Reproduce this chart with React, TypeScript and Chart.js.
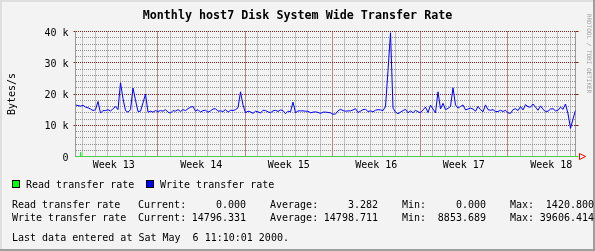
import React, { useEffect, useRef } from 'react';
import { Chart, registerables } from 'chart.js';

Chart.register(...registerables);

// ---------- data ----------
const TITLE = 'Monthly host7 Disk System Wide Transfer Rate';
const Y_TITLE = 'Bytes/s';
const FOOTER = 'Last data entered at Sat May  6 11:10:01 2000.';
const WATERMARK = 'RRDTOOL / TOBI OETIKER';

const SPAN_DAYS = 40;
const SAMPLE_STEP_DAYS = 0.2;
const FIRST_DAY_LINE = 0.56;
const FIRST_WEEK_LINE_INDEX = 6;
const WEEK_LABELS = ['Week 13', 'Week 14', 'Week 15', 'Week 16', 'Week 17', 'Week 18'];

const Y_MAX = 40000;
const Y_STEP = 2000;
const Y_MAJOR = 10000;

const SERIES_NAMES = ['Read transfer rate', 'Write transfer rate'];
const SERIES_COLORS = ['#00ff00', '#0000ff'];
const STAT_CURRENT = ['0.000', '14796.331'];
const STAT_AVERAGE = ['3.282', '14798.711'];
const STAT_MIN = ['0.000', '8853.689'];
const STAT_MAX = ['1420.800', '39606.414'];

// read transfer rate (bytes/s): flat zero with one small burst
const readDays = [0, 0.36, 0.4, 0.44, 40];
const readRate = [0, 0, 1420.8, 0, 0];

// write transfer rate (bytes/s), one sample every SAMPLE_STEP_DAYS
const writeRate = [
  16500, 16300, 16100, 16400, 15800, 15600, 15200, 14700, 15000, 17600,
  13900, 14700, 14700, 15000, 14500, 15300, 16000, 15000, 23600, 18500,
  14700, 14200, 15000, 21900, 18000, 14400, 14500, 17200, 20000, 14200,
  14500, 14200, 14700, 14400, 14700, 14500, 15000, 14200, 13900, 14700,
  14500, 15000, 14400, 15000, 14700, 15300, 15800, 16000, 14500, 15000,
  14200, 14700, 14800, 14200, 14600, 15200, 15300, 14500, 14600, 14400,
  15000, 14200, 14800, 14700, 15000, 15600, 20700, 16500, 14000, 14500,
  14300, 13800, 14500, 14300, 13900, 14800, 14700, 14300, 14000, 14600,
  14800, 14400, 14900, 14700, 13700, 14500, 14300, 17400, 14000, 14600,
  14600, 14600, 14500, 14500, 14000, 14200, 14300, 14100, 13800, 14200,
  14200, 14100, 14000, 13500, 13600, 14600, 15100, 14700, 14500, 14600,
  14600, 14900, 15300, 14100, 14500, 15000, 15100, 14400, 14600, 14300,
  14800, 15000, 14900, 14700, 16000, 27500, 39600, 15500, 14200, 13700,
  14200, 14700, 15100, 14000, 14600, 14000, 14800, 14300, 14000, 14900,
  15800, 14100, 16400, 15200, 14000, 20700, 15200, 17000, 15000, 15400,
  16000, 22000, 16500, 15500, 16000, 16500, 14900, 15200, 15500, 15200,
  14500, 16000, 15000, 14300, 16500, 15000, 14800, 15000, 14400, 14400,
  14800, 14400, 14800, 14000, 13800, 15000, 15300, 14700, 16000, 14900,
  16600, 15900, 15800, 16800, 15800, 14800, 16200, 15100, 14400, 14500,
  15200, 15300, 14600, 14800, 15800, 15100, 16800, 13700, 9000, 12000,
  14800,
];

// ---------- style ----------
const W = 595;
const H = 251;
const PLOT_LEFT = 75.5;
const PLOT_TOP = 31.5;
const PLOT_RIGHT_PAD = 19.5;
const X_AXIS_H = 20;
const PLOT_BOTTOM_PAD = H - 156.5 - X_AXIS_H;

const BACK = '#f3f3f3';
const SHADE_A = '#dedede';
const SHADE_B = '#9e9e9e';
const GRID = '#8f8f8f';
const MGRID = '#821e1e';
const AXIS = '#9a9a9a';
const ARROW = '#ff0000';
const MONO = '"DejaVu Sans Mono", monospace';
const CHAR_W = 6;

const rrdPlugin = {
  id: 'rrdDecor',
  beforeDraw(chart: any) {
    const { ctx } = chart;
    ctx.save();
    ctx.fillStyle = BACK;
    ctx.fillRect(0, 0, W, H);
    ctx.fillStyle = SHADE_A;
    ctx.fillRect(0, 0, W, 2);
    ctx.fillRect(0, 0, 2, H);
    ctx.fillStyle = SHADE_B;
    ctx.fillRect(0, H - 2, W, 2);
    ctx.fillRect(W - 2, 0, 2, H);
    ctx.restore();
  },
  afterDraw(chart: any) {
    const { ctx, chartArea, scales } = chart;
    const y = scales.y;
    ctx.save();

    // major grid extensions to the right of the plot
    ctx.strokeStyle = MGRID;
    ctx.lineWidth = 1;
    for (let v = Y_MAJOR; v <= Y_MAX; v += Y_MAJOR) {
      const py = Math.round(y.getPixelForValue(v) - 0.5) + 0.5;
      ctx.beginPath();
      ctx.moveTo(chartArea.right, py);
      ctx.lineTo(chartArea.right + 3, py);
      ctx.stroke();
    }

    // x axis arrow
    const by = Math.round(y.getPixelForValue(0) - 0.5) + 0.5;
    ctx.strokeStyle = SERIES_COLORS[0];
    ctx.beginPath();
    ctx.moveTo(chartArea.right, by);
    ctx.lineTo(chartArea.right + 3, by);
    ctx.stroke();
    ctx.strokeStyle = ARROW;
    const ax = Math.round(chartArea.right + 3) + 0.5;
    ctx.beginPath();
    ctx.moveTo(ax, by - 3);
    ctx.lineTo(ax + 6, by);
    ctx.lineTo(ax, by + 3);
    ctx.closePath();
    ctx.stroke();

    // title
    ctx.fillStyle = '#000';
    ctx.font = `bold 11.7px ${MONO}`;
    ctx.textAlign = 'center';
    ctx.textBaseline = 'alphabetic';
    ctx.fillText(TITLE, W / 2, 19);

    // legend
    ctx.font = `10px ${MONO}`;
    ctx.textAlign = 'left';
    const legendX = [12, 146];
    SERIES_NAMES.forEach((name, i) => {
      const lx = legendX[i];
      ctx.fillStyle = '#000';
      ctx.fillRect(lx, 180, 8, 8);
      ctx.fillStyle = SERIES_COLORS[i];
      ctx.fillRect(lx + 1, 181, 6, 6);
      ctx.fillStyle = '#000';
      ctx.fillText(name, lx + 14, 187.5);
    });

    // statistics
    const col = (c: number) => 12 + c * CHAR_W;
    const rows = [208, 220.5];
    SERIES_NAMES.forEach((name, i) => {
      const by2 = rows[i];
      ctx.textAlign = 'left';
      ctx.fillText(name, col(0), by2);
      ctx.fillText('Current:', col(21), by2);
      ctx.fillText('Average:', col(43), by2);
      ctx.fillText('Min:', col(65), by2);
      ctx.fillText('Max:', col(83), by2);
      ctx.textAlign = 'right';
      ctx.fillText(STAT_CURRENT[i], col(39), by2);
      ctx.fillText(STAT_AVERAGE[i], col(61), by2);
      ctx.fillText(STAT_MIN[i], col(79), by2);
      ctx.fillText(STAT_MAX[i], col(97), by2);
    });
    ctx.textAlign = 'left';
    ctx.fillText(FOOTER, col(0), 241);

    // watermark
    ctx.fillStyle = '#a0a0a0';
    ctx.font = `6px ${MONO}`;
    ctx.translate(589, 53.5);
    ctx.rotate(Math.PI / 2);
    ctx.textAlign = 'center';
    ctx.textBaseline = 'middle';
    ctx.fillText(WATERMARK, 0, 0);
    ctx.restore();
  },
};

export default function App() {
  const ref = useRef<HTMLCanvasElement | null>(null);

  useEffect(() => {
    if (!ref.current) return;
    const tickFont = { family: MONO, size: 10 };
    const chart = new Chart(ref.current, {
      type: 'line',
      data: {
        datasets: [
          {
            label: SERIES_NAMES[0],
            data: readRate.map((v, i) => ({ x: readDays[i], y: v })),
            borderColor: SERIES_COLORS[0],
            borderWidth: 1,
            pointRadius: 0,
            tension: 0,
            fill: false,
          },
          {
            label: SERIES_NAMES[1],
            data: writeRate.map((v, i) => ({ x: i * SAMPLE_STEP_DAYS, y: v })),
            borderColor: SERIES_COLORS[1],
            borderWidth: 1,
            pointRadius: 0,
            tension: 0,
            fill: false,
          },
        ],
      },
      options: {
        animation: false,
        responsive: false,
        maintainAspectRatio: false,
        devicePixelRatio: 1,
        events: [],
        layout: {
          padding: { left: 0, top: PLOT_TOP, right: PLOT_RIGHT_PAD, bottom: PLOT_BOTTOM_PAD },
        },
        plugins: {
          legend: { display: false },
          title: { display: false },
          tooltip: { enabled: false },
        },
        scales: {
          x: {
            type: 'linear',
            min: 0,
            max: SPAN_DAYS,
            afterBuildTicks: (axis: any) => {
              const t: any[] = [];
              for (let k = 0; FIRST_DAY_LINE + k < SPAN_DAYS; k++) {
                const isWeek = k >= FIRST_WEEK_LINE_INDEX && (k - FIRST_WEEK_LINE_INDEX) % 7 === 0;
                t.push({ value: FIRST_DAY_LINE + k, kind: isWeek ? 'week' : 'day' });
              }
              const firstWeek = FIRST_DAY_LINE + FIRST_WEEK_LINE_INDEX;
              WEEK_LABELS.forEach((_, k) => {
                t.push({ value: firstWeek - 3.5 + 7 * k, kind: 'label', idx: k });
              });
              t.push({ value: SPAN_DAYS, kind: 'edge' });
              t.sort((a, b) => a.value - b.value);
              axis.ticks = t;
            },
            afterFit: (s: any) => {
              s.height = X_AXIS_H;
            },
            ticks: {
              autoSkip: false,
              maxRotation: 0,
              minRotation: 0,
              padding: 3,
              color: '#000',
              font: tickFont,
              callback: (_v: any, i: number, ticks: any[]) =>
                ticks[i] && ticks[i].kind === 'label' ? WEEK_LABELS[ticks[i].idx] : '',
            },
            grid: {
              drawTicks: false,
              lineWidth: 1,
              color: (c: any) => {
                const k = c.tick && c.tick.kind;
                if (k === 'label') return 'rgba(0,0,0,0)';
                if (k === 'week') return MGRID;
                if (k === 'edge') return AXIS;
                return GRID;
              },
            },
            border: {
              display: true,
              color: AXIS,
              width: 1,
              dash: (c: any) => (c.tick && c.tick.kind !== 'edge' ? [1, 1] : []),
            },
          },
          y: {
            type: 'linear',
            min: 0,
            max: Y_MAX,
            afterFit: (s: any) => {
              s.width = PLOT_LEFT;
            },
            ticks: {
              stepSize: Y_STEP,
              autoSkip: false,
              padding: 5,
              labelOffset: 1.5,
              color: '#000',
              font: tickFont,
              callback: (v: any) => {
                const n = Number(v);
                if (n % Y_MAJOR !== 0) return '';
                return n === 0 ? '0' : `${n / 1000} k`;
              },
            },
            grid: {
              lineWidth: 1,
              tickLength: 2,
              color: (c: any) => (c.tick && c.tick.value % Y_MAJOR === 0 ? MGRID : GRID),
              tickColor: (c: any) =>
                c.tick && c.tick.value % Y_MAJOR === 0 && c.tick.value > 0 ? MGRID : 'rgba(0,0,0,0)',
            },
            border: {
              display: true,
              color: AXIS,
              width: 1,
              dash: (c: any) => (c.tick ? [1, 1] : []),
            },
            title: {
              display: true,
              text: Y_TITLE,
              color: '#000',
              font: tickFont,
              padding: { top: 6.5, bottom: 0 },
            },
          },
        },
      },
      plugins: [rrdPlugin],
    } as any);
    return () => chart.destroy();
  }, []);

  return (
    <div style={{ position: 'fixed', left: 0, top: 0, width: W, height: H }}>
      <canvas ref={ref} width={W} height={H} style={{ display: 'block', width: W, height: H }} />
    </div>
  );
}
